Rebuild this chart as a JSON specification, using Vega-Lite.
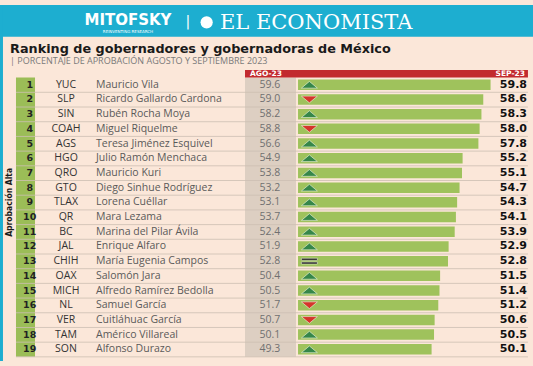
{
 "$schema": "https://vega.github.io/schema/vega-lite/v6.json",
 "width": 533, "height": 366, "autosize": "none", "padding": 0,
 "background": "#fbe7d9",
 "config": {"view": {"stroke": null}},
 "data": {"values": [
  {"rank": 1, "code": "YUC", "name": "Mauricio Vila", "ago": 59.6, "sep": 59.8, "trend": "up"},
  {"rank": 2, "code": "SLP", "name": "Ricardo Gallardo Cardona", "ago": 59.0, "sep": 58.6, "trend": "down"},
  {"rank": 3, "code": "SIN", "name": "Rubén Rocha Moya", "ago": 58.2, "sep": 58.3, "trend": "up"},
  {"rank": 4, "code": "COAH", "name": "Miguel Riquelme", "ago": 58.8, "sep": 58.0, "trend": "down"},
  {"rank": 5, "code": "AGS", "name": "Teresa Jiménez Esquivel", "ago": 56.6, "sep": 57.8, "trend": "up"},
  {"rank": 6, "code": "HGO", "name": "Julio Ramón Menchaca", "ago": 54.9, "sep": 55.2, "trend": "up"},
  {"rank": 7, "code": "QRO", "name": "Mauricio Kuri", "ago": 53.8, "sep": 55.1, "trend": "up"},
  {"rank": 8, "code": "GTO", "name": "Diego Sinhue Rodríguez", "ago": 53.2, "sep": 54.7, "trend": "up"},
  {"rank": 9, "code": "TLAX", "name": "Lorena Cuéllar", "ago": 53.1, "sep": 54.3, "trend": "up"},
  {"rank": 10, "code": "QR", "name": "Mara Lezama", "ago": 53.7, "sep": 54.1, "trend": "up"},
  {"rank": 11, "code": "BC", "name": "Marina del Pilar Ávila", "ago": 52.4, "sep": 53.9, "trend": "up"},
  {"rank": 12, "code": "JAL", "name": "Enrique Alfaro", "ago": 51.9, "sep": 52.9, "trend": "up"},
  {"rank": 13, "code": "CHIH", "name": "María Eugenia Campos", "ago": 52.8, "sep": 52.8, "trend": "eq"},
  {"rank": 14, "code": "OAX", "name": "Salomón Jara", "ago": 50.4, "sep": 51.5, "trend": "up"},
  {"rank": 15, "code": "MICH", "name": "Alfredo Ramírez Bedolla", "ago": 50.5, "sep": 51.4, "trend": "up"},
  {"rank": 16, "code": "NL", "name": "Samuel García", "ago": 51.7, "sep": 51.2, "trend": "down"},
  {"rank": 17, "code": "VER", "name": "Cuitláhuac García", "ago": 50.7, "sep": 50.6, "trend": "down"},
  {"rank": 18, "code": "TAM", "name": "Américo Villareal", "ago": 50.1, "sep": 50.5, "trend": "up"},
  {"rank": 19, "code": "SON", "name": "Alfonso Durazo", "ago": 49.3, "sep": 50.1, "trend": "up"}
 ]},
 "layer": [
  {"data": {"values": [{}]}, "mark": {"type": "rect", "color": "#1daed0"},
   "encoding": {
    "x": {"datum": -20.89, "type": "quantitative", "scale": {"domain": [-20.89, 66.78], "nice": false, "zero": false}, "axis": null},
    "x2": {"datum": 66.78},
    "y": {"datum": -4.428, "type": "quantitative", "scale": {"domain": [-4.428, 19.795], "nice": false, "zero": false, "reverse": true}, "axis": null},
    "y2": {"datum": -2.26}}},
  {"data": {"values": [{}]}, "mark": {"type": "rect", "color": "#1daed0"},
   "encoding": {
    "x": {"datum": -20.89, "type": "quantitative", "scale": {"domain": [-20.89, 66.78], "nice": false, "zero": false}, "axis": null},
    "x2": {"datum": -20.4},
    "y": {"datum": -4.428, "type": "quantitative", "scale": {"domain": [-4.428, 19.795], "nice": false, "zero": false, "reverse": true}, "axis": null},
    "y2": {"datum": 19.795}}},
  {"data": {"values": [{}]}, "mark": {"type": "rect", "color": "#9bbd57"},
   "encoding": {
    "x": {"datum": -18.26, "type": "quantitative", "scale": {"domain": [-20.89, 66.78], "nice": false, "zero": false}, "axis": null},
    "x2": {"datum": -15.13},
    "y": {"datum": 0.5, "type": "quantitative", "scale": {"domain": [-4.428, 19.795], "nice": false, "zero": false, "reverse": true}, "axis": null},
    "y2": {"datum": 19.5}}},
  {"data": {"values": [{}]}, "mark": {"type": "rect", "color": "#ddcfc2"},
   "encoding": {
    "x": {"datum": 19.41, "type": "quantitative", "scale": {"domain": [-20.89, 66.78], "nice": false, "zero": false}, "axis": null},
    "x2": {"datum": 27.8},
    "y": {"datum": 0.5, "type": "quantitative", "scale": {"domain": [-4.428, 19.795], "nice": false, "zero": false, "reverse": true}, "axis": null},
    "y2": {"datum": 19.5}}},
  {"data": {"values": [{}]}, "mark": {"type": "rect", "color": "#c22a2e"},
   "encoding": {
    "x": {"datum": 19.41, "type": "quantitative", "scale": {"domain": [-20.89, 66.78], "nice": false, "zero": false}, "axis": null},
    "x2": {"datum": 65.95},
    "y": {"datum": 0.0, "type": "quantitative", "scale": {"domain": [-4.428, 19.795], "nice": false, "zero": false, "reverse": true}, "axis": null},
    "y2": {"datum": 0.5}}},
  {"mark": {"type": "rule", "color": "#cdbfb3", "strokeWidth": 0.8},
   "encoding": {
    "x": {"datum": -18.26, "type": "quantitative", "scale": {"domain": [-20.89, 66.78], "nice": false, "zero": false}, "axis": null},
    "x2": {"datum": 65.95},
    "y": {"field": "rank", "type": "quantitative", "scale": {"domain": [-4.428, 19.795], "nice": false, "zero": false, "reverse": true}, "axis": null},
    "yOffset": {"value": 7.55}}},
  {"mark": {"type": "bar", "color": "#9fc25c", "height": 10.5, "orient": "horizontal"},
   "encoding": {
    "x": {"field": "sep", "type": "quantitative", "scale": {"domain": [-20.89, 66.78], "nice": false, "zero": false}, "axis": null},
    "x2": {"datum": 28.13},
    "y": {"field": "rank", "type": "quantitative", "scale": {"domain": [-4.428, 19.795], "nice": false, "zero": false, "reverse": true}, "axis": null}}},
  {"mark": {"type": "point", "filled": true, "size": 256, "opacity": 1, "stroke": "#eef3e0", "strokeWidth": 0.6},
   "encoding": {
    "x": {"datum": 30.0, "type": "quantitative", "scale": {"domain": [-20.89, 66.78], "nice": false, "zero": false}, "axis": null},
    "y": {"field": "rank", "type": "quantitative", "scale": {"domain": [-4.428, 19.795], "nice": false, "zero": false, "reverse": true}, "axis": null},
    "shape": {"field": "trend", "type": "nominal", "legend": null, "scale": {"domain": ["up", "down", "eq"], "range": ["M-1,0.42L0,-0.42L1,0.42Z", "M-1,-0.42L1,-0.42L0,0.42Z", "M-1.0,-0.36H1.0V-0.12H-1.0Z M-1.0,0.12H1.0V0.36H-1.0Z"]}},
    "color": {"field": "trend", "type": "nominal", "legend": null, "scale": {"domain": ["up", "down", "eq"], "range": ["#36874a", "#d5352b", "#111111"]}}}},
  {"mark": {"type": "text", "font": "DejaVu Sans", "fontWeight": "bold", "fontSize": 9.5, "color": "#222222", "align": "center", "baseline": "middle"},
   "encoding": {
    "x": {"datum": -16.0, "type": "quantitative", "scale": {"domain": [-20.89, 66.78], "nice": false, "zero": false}, "axis": null},
    "y": {"field": "rank", "type": "quantitative", "scale": {"domain": [-4.428, 19.795], "nice": false, "zero": false, "reverse": true}, "axis": null},
    "text": {"field": "rank", "type": "quantitative"}}},
  {"mark": {"type": "text", "font": "Open Sans", "fontSize": 10.5, "color": "#333333", "align": "center", "baseline": "middle"},
   "encoding": {
    "x": {"datum": -10.03, "type": "quantitative", "scale": {"domain": [-20.89, 66.78], "nice": false, "zero": false}, "axis": null},
    "y": {"field": "rank", "type": "quantitative", "scale": {"domain": [-4.428, 19.795], "nice": false, "zero": false, "reverse": true}, "axis": null},
    "text": {"field": "code", "type": "nominal"}}},
  {"mark": {"type": "text", "font": "Open Sans", "fontSize": 10.5, "color": "#5a5a5a", "align": "left", "baseline": "middle"},
   "encoding": {
    "x": {"datum": -5.1, "type": "quantitative", "scale": {"domain": [-20.89, 66.78], "nice": false, "zero": false}, "axis": null},
    "y": {"field": "rank", "type": "quantitative", "scale": {"domain": [-4.428, 19.795], "nice": false, "zero": false, "reverse": true}, "axis": null},
    "text": {"field": "name", "type": "nominal"}}},
  {"mark": {"type": "text", "font": "Open Sans", "fontSize": 10.5, "color": "#707070", "align": "center", "baseline": "middle"},
   "encoding": {
    "x": {"datum": 23.52, "type": "quantitative", "scale": {"domain": [-20.89, 66.78], "nice": false, "zero": false}, "axis": null},
    "y": {"field": "rank", "type": "quantitative", "scale": {"domain": [-4.428, 19.795], "nice": false, "zero": false, "reverse": true}, "axis": null},
    "text": {"field": "ago", "type": "quantitative", "format": ".1f"}}},
  {"mark": {"type": "text", "font": "DejaVu Sans", "fontWeight": "bold", "fontSize": 11, "color": "#111111", "align": "right", "baseline": "middle"},
   "encoding": {
    "x": {"datum": 65.79, "type": "quantitative", "scale": {"domain": [-20.89, 66.78], "nice": false, "zero": false}, "axis": null},
    "y": {"field": "rank", "type": "quantitative", "scale": {"domain": [-4.428, 19.795], "nice": false, "zero": false, "reverse": true}, "axis": null},
    "text": {"field": "sep", "type": "quantitative", "format": ".1f"}}},
  {"data": {"values": [{}]}, "mark": {"type": "text", "font": "DejaVu Sans", "fontWeight": "bold", "fontSize": 7.5, "color": "white", "align": "left", "baseline": "middle"},
   "encoding": {
    "x": {"datum": 20.23, "type": "quantitative", "scale": {"domain": [-20.89, 66.78], "nice": false, "zero": false}, "axis": null},
    "y": {"datum": 0.27, "type": "quantitative", "scale": {"domain": [-4.428, 19.795], "nice": false, "zero": false, "reverse": true}, "axis": null},
    "text": {"value": "AGO-23"}}},
  {"data": {"values": [{}]}, "mark": {"type": "text", "font": "DejaVu Sans", "fontWeight": "bold", "fontSize": 7.5, "color": "white", "align": "right", "baseline": "middle"},
   "encoding": {
    "x": {"datum": 65.46, "type": "quantitative", "scale": {"domain": [-20.89, 66.78], "nice": false, "zero": false}, "axis": null},
    "y": {"datum": 0.27, "type": "quantitative", "scale": {"domain": [-4.428, 19.795], "nice": false, "zero": false, "reverse": true}, "axis": null},
    "text": {"value": "SEP-23"}}},
  {"data": {"values": [{}]}, "mark": {"type": "text", "font": "DejaVu Sans", "fontWeight": "bold", "fontSize": 12.8, "color": "#1a1a1a", "align": "left", "baseline": "middle"},
   "encoding": {
    "x": {"datum": -19.24, "type": "quantitative", "scale": {"domain": [-20.89, 66.78], "nice": false, "zero": false}, "axis": null},
    "y": {"datum": -1.45, "type": "quantitative", "scale": {"domain": [-4.428, 19.795], "nice": false, "zero": false, "reverse": true}, "axis": null},
    "text": {"value": "Ranking de gobernadores y gobernadoras de México"}}},
  {"data": {"values": [{}]}, "mark": {"type": "text", "font": "Open Sans", "fontSize": 9, "color": "#7a7a7a", "align": "left", "baseline": "middle"},
   "encoding": {
    "x": {"datum": -19.24, "type": "quantitative", "scale": {"domain": [-20.89, 66.78], "nice": false, "zero": false}, "axis": null},
    "y": {"datum": -0.6, "type": "quantitative", "scale": {"domain": [-4.428, 19.795], "nice": false, "zero": false, "reverse": true}, "axis": null},
    "text": {"value": "|  PORCENTAJE DE APROBACIÓN AGOSTO Y SEPTIEMBRE 2023"}}},
  {"data": {"values": [{}]}, "mark": {"type": "text", "font": "DejaVu Sans Condensed", "fontWeight": "bold", "fontSize": 8.5, "color": "#1a1a1a", "align": "center", "baseline": "middle", "angle": 270},
   "encoding": {
    "x": {"datum": -19.41, "type": "quantitative", "scale": {"domain": [-20.89, 66.78], "nice": false, "zero": false}, "axis": null},
    "y": {"datum": 9.0, "type": "quantitative", "scale": {"domain": [-4.428, 19.795], "nice": false, "zero": false, "reverse": true}, "axis": null},
    "text": {"value": "Aprobación Alta"}}},
  {"data": {"values": [{}]}, "mark": {"type": "text", "font": "DejaVu Sans", "fontWeight": "bold", "fontSize": 15, "color": "white", "align": "center", "baseline": "middle"},
   "encoding": {
    "x": {"datum": 0.16, "type": "quantitative", "scale": {"domain": [-20.89, 66.78], "nice": false, "zero": false}, "axis": null},
    "y": {"datum": -3.42, "type": "quantitative", "scale": {"domain": [-4.428, 19.795], "nice": false, "zero": false, "reverse": true}, "axis": null},
    "text": {"value": "MITOFSKY"}}},
  {"data": {"values": [{}]}, "mark": {"type": "text", "font": "DejaVu Sans", "fontSize": 4, "color": "white", "align": "center", "baseline": "middle"},
   "encoding": {
    "x": {"datum": 0.16, "type": "quantitative", "scale": {"domain": [-20.89, 66.78], "nice": false, "zero": false}, "axis": null},
    "y": {"datum": -2.6, "type": "quantitative", "scale": {"domain": [-4.428, 19.795], "nice": false, "zero": false, "reverse": true}, "axis": null},
    "text": {"value": "REINVENTING RESEARCH"}}},
  {"data": {"values": [{}]}, "mark": {"type": "text", "font": "DejaVu Sans", "fontSize": 14, "color": "white", "align": "center", "baseline": "middle"},
   "encoding": {
    "x": {"datum": 10.03, "type": "quantitative", "scale": {"domain": [-20.89, 66.78], "nice": false, "zero": false}, "axis": null},
    "y": {"datum": -3.27, "type": "quantitative", "scale": {"domain": [-4.428, 19.795], "nice": false, "zero": false, "reverse": true}, "axis": null},
    "text": {"value": "|"}}},
  {"data": {"values": [{}]}, "mark": {"type": "point", "filled": true, "shape": "circle", "size": 150, "color": "white", "opacity": 1},
   "encoding": {
    "x": {"datum": 13.1, "type": "quantitative", "scale": {"domain": [-20.89, 66.78], "nice": false, "zero": false}, "axis": null},
    "y": {"datum": -3.25, "type": "quantitative", "scale": {"domain": [-4.428, 19.795], "nice": false, "zero": false, "reverse": true}, "axis": null}}},
  {"data": {"values": [{}]}, "mark": {"type": "text", "font": "DejaVu Serif", "fontSize": 21, "color": "white", "align": "left", "baseline": "middle"},
   "encoding": {
    "x": {"datum": 15.3, "type": "quantitative", "scale": {"domain": [-20.89, 66.78], "nice": false, "zero": false}, "axis": null},
    "y": {"datum": -3.22, "type": "quantitative", "scale": {"domain": [-4.428, 19.795], "nice": false, "zero": false, "reverse": true}, "axis": null},
    "text": {"value": "EL ECONOMISTA"}}}
 ]
}
